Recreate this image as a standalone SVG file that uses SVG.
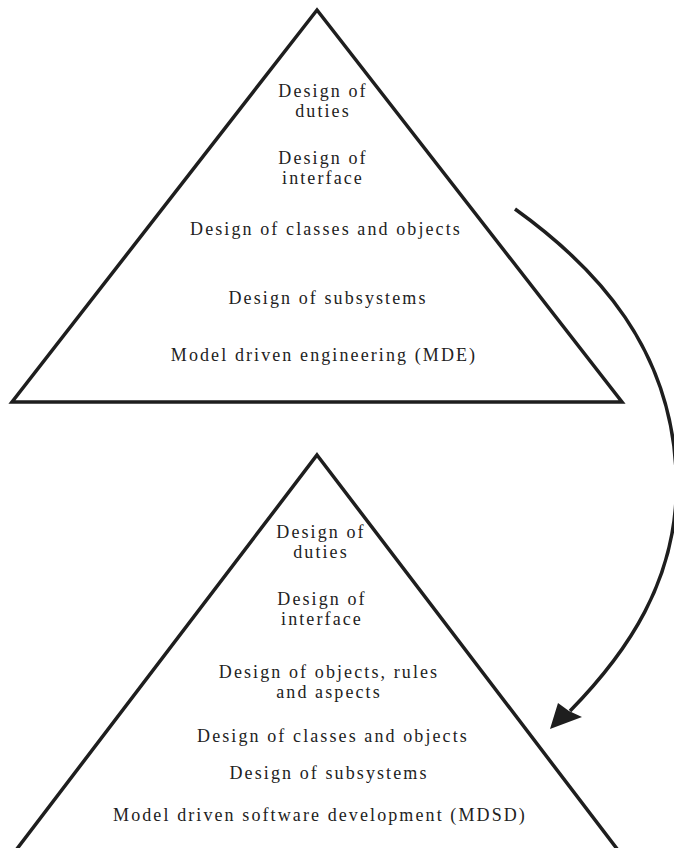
<svg xmlns="http://www.w3.org/2000/svg" width="674" height="848" viewBox="0 0 674 848">
  <style>
    .tri { fill: none; stroke: #1e1e1e; stroke-width: 3.5; stroke-linejoin: miter; stroke-miterlimit: 20; }
    .lbl { font-family: "Liberation Serif", "Times New Roman", serif; font-size: 18px; letter-spacing: 2.1px; fill: #222; text-anchor: middle; }
    .conn { fill: none; stroke: #1e1e1e; stroke-width: 3.5; }
    .head { fill: #1e1e1e; stroke: none; }
  </style>
  <rect width="674" height="848" fill="#ffffff"/>
  <g id="mde">
    <polygon class="tri" points="317,10 622,402 12,402"/>
    <text class="lbl" x="323" y="97">Design of</text>
    <text class="lbl" x="323" y="117">duties</text>
    <text class="lbl" x="323" y="164">Design of</text>
    <text class="lbl" x="323" y="184">interface</text>
    <text class="lbl" x="326" y="235">Design of classes and objects</text>
    <text class="lbl" x="328" y="304">Design of subsystems</text>
    <text class="lbl" x="324" y="361">Model driven engineering (MDE)</text>
  </g>
  <g id="mdsd">
    <polygon class="tri" points="317,455 624,858 10,858"/>
    <text class="lbl" x="321" y="538">Design of</text>
    <text class="lbl" x="321" y="558">duties</text>
    <text class="lbl" x="322" y="605">Design of</text>
    <text class="lbl" x="322" y="625">interface</text>
    <text class="lbl" x="329" y="678">Design of objects, rules</text>
    <text class="lbl" x="329" y="698">and aspects</text>
    <text class="lbl" x="333" y="742">Design of classes and objects</text>
    <text class="lbl" x="329" y="779">Design of subsystems</text>
    <text class="lbl" x="320" y="821">Model driven software development (MDSD)</text>
  </g>
  <g id="connectors">
    <path class="conn" d="M515,209 C600,270 670,350 676,470 C682,580 622,658 570,711"/>
    <polygon class="head" points="550,729 558,703 569,711 582,717"/>
  </g>
</svg>
